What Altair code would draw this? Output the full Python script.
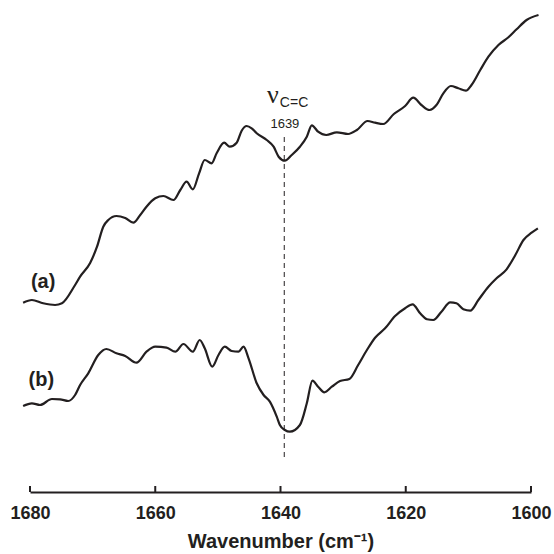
import altair as alt
import pandas as pd

# Spectrum (a): wavenumber (cm-1) and relative absorbance (arbitrary units)
wn_a = [1681.1, 1679.7, 1677.9, 1676.0, 1674.9, 1672.8, 1672.0, 1670.4, 1669.3, 1668.3,
        1667.5, 1666.2, 1664.8, 1663.5, 1662.4, 1661.4, 1660.0, 1658.7, 1657.1, 1656.0,
        1655.0, 1654.0, 1653.0, 1652.1, 1651.0, 1650.2, 1649.0, 1648.1, 1647.0, 1646.2,
        1645.4, 1644.6, 1643.8, 1642.2, 1641.1, 1640.3, 1639.3, 1638.2, 1636.9, 1635.8,
        1635.0, 1634.0, 1632.7, 1631.0, 1629.2, 1627.8, 1626.1, 1624.9, 1623.6, 1621.9,
        1620.1, 1618.8, 1617.5, 1616.2, 1615.1, 1614.0, 1612.8, 1611.6, 1610.4, 1609.5,
        1608.1, 1606.8, 1605.2, 1603.6, 1602.3, 1600.7, 1598.8]
ab_a = [189.3, 192.0, 188.7, 187.0, 188.7, 207.0, 215.3, 229.0, 245.3, 265.3,
        272.0, 276.0, 274.0, 269.3, 277.0, 285.3, 293.7, 296.0, 292.0, 302.0,
        310.3, 302.7, 318.7, 332.0, 328.7, 338.7, 349.3, 345.3, 349.3, 361.3,
        366.0, 363.7, 358.7, 352.0, 345.3, 335.3, 331.3, 337.0, 345.3, 355.3,
        366.7, 360.3, 357.0, 359.7, 358.0, 362.0, 371.0, 369.3, 368.0, 378.0,
        386.0, 394.3, 387.0, 382.0, 387.0, 398.7, 406.0, 403.7, 401.3, 407.0,
        422.0, 435.3, 447.0, 454.7, 462.7, 472.0, 477.0]

# Spectrum (b)
wn_b = [1681.1, 1679.7, 1678.4, 1676.5, 1675.2, 1673.9, 1672.8, 1672.0, 1670.7, 1669.1,
        1667.8, 1666.2, 1664.8, 1663.0, 1661.4, 1660.0, 1658.2, 1656.8, 1655.5, 1654.0,
        1652.9, 1652.1, 1650.9, 1649.9, 1648.9, 1647.8, 1646.7, 1645.9, 1645.1, 1643.8,
        1642.7, 1641.7, 1640.6, 1640.1, 1639.3, 1638.5, 1636.9, 1635.8, 1634.9, 1634.0,
        1633.0, 1631.8, 1630.5, 1629.0, 1627.6, 1626.2, 1624.9, 1623.3, 1621.7, 1620.1,
        1618.9, 1617.7, 1616.6, 1615.6, 1614.3, 1612.9, 1611.9, 1610.8, 1609.7, 1608.4,
        1606.8, 1605.5, 1603.9, 1602.5, 1601.2, 1599.9, 1598.9]
ab_b = [86.0, 88.7, 87.0, 93.0, 92.7, 91.0, 97.0, 107.0, 118.7, 137.0,
        143.0, 138.7, 136.0, 129.3, 140.3, 145.3, 144.3, 140.3, 148.0, 140.3,
        152.0, 143.7, 125.3, 137.0, 145.3, 141.0, 140.3, 145.3, 133.7, 108.7,
        97.0, 90.3, 75.3, 67.0, 62.0, 60.3, 67.0, 88.7, 111.3, 105.3,
        99.7, 105.3, 111.0, 113.0, 127.0, 142.0, 154.3, 163.7, 176.0, 183.7,
        187.7, 178.7, 172.7, 172.0, 180.3, 189.7, 188.7, 182.7, 181.3, 192.0,
        205.3, 213.7, 222.7, 237.0, 252.0, 259.3, 263.7]

tick_values = [1680, 1660, 1640, 1620, 1600]
marker_wn = 1639.4
marker_top = 357
marker_bottom = 35

series_labels = ["(a)", "(b)"]
series_label_wn = [1677.9, 1678.2]
series_label_ab = [210, 112]

INK = "#231f20"
W, H = 501, 480

xscale = alt.Scale(domain=[1680, 1600], nice=False, zero=False)
yscale = alt.Scale(domain=[0, 480], nice=False, zero=False)

df = pd.concat([
    pd.DataFrame({"wn": wn_a, "ab": ab_a, "s": "a"}),
    pd.DataFrame({"wn": wn_b, "ab": ab_b, "s": "b"}),
])

x_enc = alt.X("wn:Q", scale=xscale,
              axis=alt.Axis(values=tick_values, format="d", title="Wavenumber (cm⁻¹)",
                            grid=False, ticks=False, tickSize=0, domainColor=INK,
                            domainWidth=2, labelColor=INK, labelFont="Liberation Sans",
                            labelFontWeight="bold", labelFontSize=18, labelPadding=12,
                            labelFlush=False,
                            titleColor=INK, titleFont="Liberation Sans",
                            titleFontWeight="bold", titleFontSize=20, titlePadding=9))

lines = alt.Chart(df).mark_line(color=INK, strokeWidth=2.2, interpolate="monotone").encode(
    x=x_enc,
    y=alt.Y("ab:Q", scale=yscale, axis=None),
    detail="s:N",
)

ticks = alt.Chart(pd.DataFrame({"t": tick_values})).mark_rule(color=INK, strokeWidth=2).encode(
    x=alt.X("t:Q", scale=xscale),
    y=alt.value(H - 6),
    y2=alt.value(H),
)

marker = alt.Chart(pd.DataFrame({"wn": [marker_wn], "y1": [marker_bottom], "y2": [marker_top]})).mark_rule(
    color=INK, strokeWidth=1, strokeDash=[5, 4]
).encode(
    x=alt.X("wn:Q", scale=xscale),
    y=alt.Y("y1:Q", scale=yscale),
    y2="y2:Q",
)

labels = alt.Chart(pd.DataFrame({"wn": series_label_wn, "ab": series_label_ab, "t": series_labels})).mark_text(
    color=INK, font="Liberation Sans", fontWeight="bold", fontSize=20, align="center", baseline="middle"
).encode(
    x=alt.X("wn:Q", scale=xscale),
    y=alt.Y("ab:Q", scale=yscale),
    text="t:N",
)

nu = alt.Chart(pd.DataFrame({"wn": [1641.2], "ab": [389], "t": ["ν"]})).mark_text(
    color=INK, font="Liberation Serif", fontSize=26, align="center", baseline="alphabetic"
).encode(x=alt.X("wn:Q", scale=xscale), y=alt.Y("ab:Q", scale=yscale), text="t:N")

sub = alt.Chart(pd.DataFrame({"wn": [1640.1], "ab": [385], "t": ["C=C"]})).mark_text(
    color=INK, font="Liberation Sans", fontSize=14, align="left", baseline="alphabetic"
).encode(x=alt.X("wn:Q", scale=xscale), y=alt.Y("ab:Q", scale=yscale), text="t:N")

num = alt.Chart(pd.DataFrame({"wn": [1639.3], "ab": [364], "t": ["1639"]})).mark_text(
    color=INK, font="Liberation Sans", fontSize=13, align="center", baseline="alphabetic"
).encode(x=alt.X("wn:Q", scale=xscale), y=alt.Y("ab:Q", scale=yscale), text="t:N")

chart = alt.layer(lines, ticks, marker, labels, nu, sub, num).properties(
    width=W, height=H,
    autosize=alt.AutoSizeParams(type="none"),
    padding={"left": 30, "top": 12, "right": 23, "bottom": 62},
    background="white",
).configure_view(stroke=None)

chart.save("out.html", embed_options={"renderer": "svg", "actions": False})
